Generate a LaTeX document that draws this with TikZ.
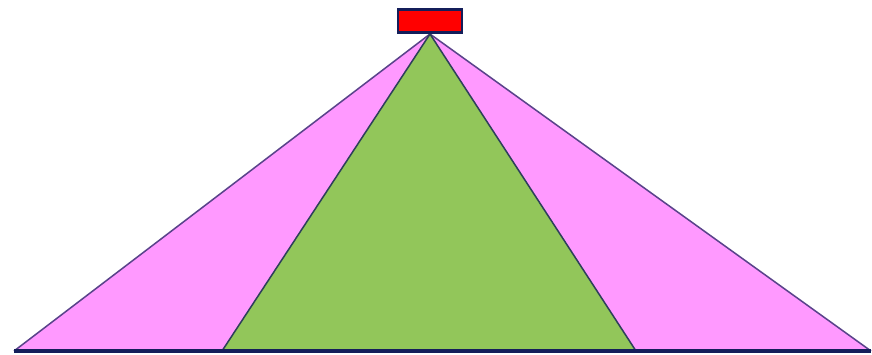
\documentclass[tikz,border=0pt]{standalone}
\usepackage{xcolor}
\usepackage{tikz}
\usetikzlibrary{positioning,calc}
\definecolor{beampink}{RGB}{255,153,255}
\definecolor{beamgreen}{RGB}{146,198,90}
\definecolor{rimnavy}{RGB}{20,30,90}
\definecolor{srcred}{RGB}{255,0,0}
\tikzset{
  source/.style={draw=rimnavy, line width=2.2pt, fill=srcred, inner sep=0pt,
                 minimum width=64\unitpx, minimum height=23\unitpx},
  cone/.style={draw=rimnavy!70!beampink, line width=1.3pt, line join=round},
  floorline/.style={draw=rimnavy, line width=2.6pt}
}
\newlength{\unitpx}
\setlength{\unitpx}{0.03cm}
\begin{document}
\begin{tikzpicture}[x=0.03cm, y=-0.03cm]
        \useasboundingbox (0,0) rectangle (872,354);
        \coordinate (apex) at (430,34);
        \coordinate (wl) at (14,351);
        \coordinate (wr) at (871,351);
        \coordinate (nl) at (222,351);
        \coordinate (nr) at (636,351);
        % wide beam
        \fill[beampink] (apex) -- (wl) -- (wr) -- cycle;
        \draw[cone] (wl) -- (apex) -- (wr);
        % narrow beam
        \fill[beamgreen] (apex) -- (nl) -- (nr) -- cycle;
        \draw[cone, draw=rimnavy!80!beamgreen] (nl) -- (apex) -- (nr);
        \draw[floorline] (wl) -- (wr);
        \node[source] (src) at (430,21) {};
      \end{tikzpicture}
\end{document}
